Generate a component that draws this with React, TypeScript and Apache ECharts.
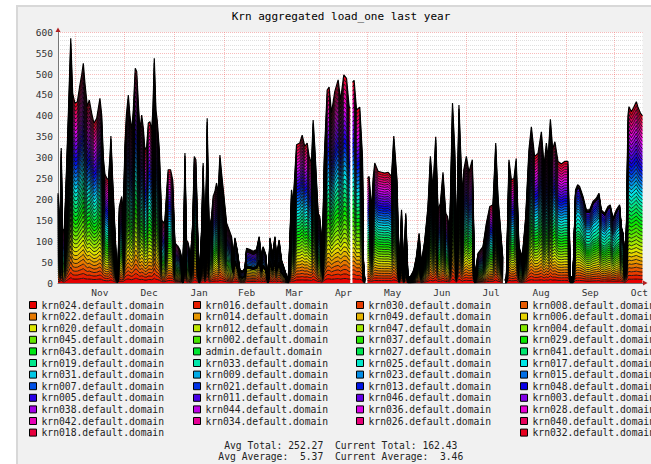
import React, { useEffect, useRef } from 'react';
import * as echarts from 'echarts';

const titleText = 'Krn aggregated load_one last year';

// hosts in stacking order (bottom to top)
const hostNames = [
  'krn024.default.domain', 'krn016.default.domain', 'krn030.default.domain', 'krn008.default.domain',
  'krn022.default.domain', 'krn014.default.domain', 'krn049.default.domain', 'krn006.default.domain',
  'krn020.default.domain', 'krn012.default.domain', 'krn047.default.domain', 'krn004.default.domain',
  'krn045.default.domain', 'krn002.default.domain', 'krn037.default.domain', 'krn029.default.domain',
  'krn043.default.domain', 'admin.default.domain', 'krn027.default.domain', 'krn041.default.domain',
  'krn019.default.domain', 'krn033.default.domain', 'krn025.default.domain', 'krn017.default.domain',
  'krn031.default.domain', 'krn009.default.domain', 'krn023.default.domain', 'krn015.default.domain',
  'krn007.default.domain', 'krn021.default.domain', 'krn013.default.domain', 'krn048.default.domain',
  'krn005.default.domain', 'krn011.default.domain', 'krn046.default.domain', 'krn003.default.domain',
  'krn038.default.domain', 'krn044.default.domain', 'krn036.default.domain', 'krn028.default.domain',
  'krn042.default.domain', 'krn034.default.domain', 'krn026.default.domain', 'krn040.default.domain',
  'krn018.default.domain', 'krn032.default.domain',
];

const monthNames = ['Nov', 'Dec', 'Jan', 'Feb', 'Mar', 'Apr', 'May', 'Jun', 'Jul', 'Aug', 'Sep', 'Oct'];
// day offsets from the first day shown (Oct 21)
const monthStartDay = [11, 41, 72, 103, 131, 162, 192, 223, 253, 284, 315, 345];
const monthLengths = [30, 31, 31, 28, 31, 30, 31, 30, 31, 31, 30, 31];
const axisMaxDay = 362.5;
const firstDayUTC = Date.UTC(2012, 9, 21);
const DAY_MS = 86400000;

// days since Oct 21 of the previous year
const sampleDay = [
  0, 1.2, 2.0, 2.9, 4.0, 5.4, 6.4, 7.9, 9.1, 10.5, 12.0, 13.6, 14.7, 15.7, 16.7, 18.2, 19.4, 20.9, 22.3, 24.0,
  26.0, 27.1, 28.1, 29.1, 30.2, 31.2, 32.2, 32.8, 33.9, 35.3, 36.4, 37.2, 38.0, 39.5, 40.5, 41.5, 42.4, 43.6, 44.6, 45.7,
  46.7, 47.9, 48.8, 49.8, 50.8, 51.9, 52.9, 53.9, 55.0, 56.0, 57.0, 58.1, 58.9, 59.7, 60.7, 61.5, 62.8, 64.3, 65.2, 66.3,
  67.4, 68.3, 69.8, 71.1, 72.5, 74.5, 75.6, 76.6, 77.3, 78.1, 78.7, 79.7, 80.7, 82.2, 83.5, 84.5, 85.5, 86.6, 87.6, 89.0,
  90.0, 91.1, 92.0, 92.5, 93.1, 93.7, 95.2, 96.2, 97.3, 98.3, 99.3, 100.4, 101.4, 102.9, 104.5, 106.1, 107.6, 108.6, 109.7, 111.1,
  112.8, 114.4, 115.9, 116.9, 119.0, 121.0, 123.1, 124.7, 126.2, 127.2, 128.9, 130.3, 131.4, 133.0, 134.5, 135.5, 137.1, 138.6, 140.6, 142.7,
  143.7, 144.8, 145.8, 147.9, 149.9, 151.4, 153.0, 154.5, 155.7, 157.2, 158.2, 159.2, 161.3, 162.3, 164.0, 165.1, 166.9, 168.1, 169.6, 171.6,
  173.7, 175.2, 177.2, 178.9, 180.5, 181.2, 181.7, 182.6, 183.6, 185.1, 187.1, 188.8, 189.3, 190.2, 190.8, 191.9, 192.9, 194.4, 195.4, 196.4,
  198.5, 200.6, 202.6, 204.7, 206.8, 208.2, 210.2, 211.5, 213.0, 214.4, 215.6, 217.0, 218.5, 220.6, 222.2, 223.9, 225.3, 227.4, 229.4, 230.9,
  232.5, 234.2, 235.6, 237.1, 238.7, 240.4, 241.5, 242.9, 244.6, 246.0, 247.0, 248.6, 250.7, 251.6, 253.2, 254.8, 256.9, 258.4, 260.4, 263.5,
  265.6, 267.7, 269.7, 271.4, 272.8, 274.9, 275.8, 276.5, 277.3, 278.0, 279.6, 281.1, 282.7, 284.1, 285.8, 287.9, 290.0, 292.0, 293.5, 295.5,
  297.6, 299.7, 301.4, 302.8, 303.9, 305.3, 306.7, 308.1, 310.0, 312.1, 314.1, 316.2, 317.7, 319.3, 320.9, 322.2, 323.4, 325.5, 327.6, 329.6,
  331.7, 333.8, 335.4, 336.9, 338.9, 341.0, 342.4, 344.1, 346.2, 348.2, 349.3, 350.4, 351.3, 352.4, 353.4, 354.0, 355.5, 356.9, 358.6, 359.5,
  361.2, 362.4,
];

// aggregated load (top of the stack); null = no data
const totalLoad: (number | null)[] = [
  215, 125, 323, 123, 130, 287, 402, 586, 454, 430, 434, 474, 498, 526, 478, 422, 438, 406, 382, 394,
  442, 402, 300, 260, 251, 247, 300, 352, 247, 127, 40, 35, 183, 207, 170, 330, 402, 450, 400, 366,
  414, 514, 506, 430, 366, 402, 370, 318, 326, 383, 386, 366, 420, 538, 414, 390, 320, 151, 144, 150,
  220, 271, 271, 247, 96, 87, 79, 63, 5, 150, 311, 103, 96, 63, 143, 303, 295, 127, 15, 127,
  287, 96, 250, 394, 250, 127, 159, 207, 219, 239, 215, 306, 263, 207, 144, 127, 111, 63, 108, 80,
  31, 28, 36, 83, 80, 76, 80, 111, 63, 87, 67, 0, 108, 67, 111, 63, 103, 55, 31, 5,
  100, 223, 191, 331, 335, 354, 327, 335, 303, 287, 390, 327, 167, 159, 87, 300, 462, 469, 407, 458,
  486, 438, 498, 490, 422, 418, null, 480, 485, 414, 421, 300, 63, 10, null, 250, 255, 175, 250, 287,
  267, 265, 263, 265, 255, 352, 247, 31, 175, 31, 167, 15, 15, 31, 63, 119, 47, 103, 183, 303,
  223, 350, 175, 191, 265, 167, 159, 127, 431, 319, 79, 426, 207, 271, 303, 265, 295, 15, 71, 87,
  143, 183, 187, 335, 207, 103, 60, null, 10, 15, 295, 247, 250, 298, 87, 63, 159, 319, 374, 303,
  310, 362, 280, 335, 300, 392, 320, 338, 291, 285, 291, 291, 15, 15, 223, 235, 231, 207, 175, 175,
  195, 203, 215, 175, 167, 183, 187, 155, 175, 187, 135, 119, 63, 127, 400, 422, 410, 420, 434, 422,
  406, 400,
];

const uniformShare = [
  1, 1, 1, 1, 1, 1, 1, 1, 1, 1, 1, 1, 1, 1, 1, 1, 1, 1, 1, 1, 1, 1, 1,
  1, 1, 1, 1, 1, 1, 1, 1, 1, 1, 1, 1, 1, 1, 1, 1, 1, 1, 1, 1, 1, 1, 1,
];
const winterShare = [
  2.2, 2.2, 2.2, 2.2, 2.2, 2.2, 2.2, 2.2, 2.2,
  0.2, 0.2, 0.2, 0.2, 0.2, 0.2, 0.2, 0.2, 0.2, 0.2, 0.2, 0.2, 0.2, 0.2, 0.2, 0.2, 0.2,
  2, 2, 2, 2, 2, 2, 2, 2, 2,
  0.5, 0.5, 0.5, 0.5, 0.5, 0.5, 0.5, 0.5, 0.5, 0.5, 0.5,
];
const septemberShare = [
  1, 1, 1, 1, 1, 1, 1, 1, 1, 1, 1, 1, 1, 1, 1, 1, 1, 1, 1, 1,
  1.5, 1.5, 1.5, 1.5, 1.5,
  1, 1, 1, 1, 1, 1, 1, 1, 1,
  0.05, 0.05, 0.05, 0.05, 0.05, 0.05, 0.05, 0.05, 0.05, 0.05,
  0.4, 0.4,
];
const sharePeriodStart = [0, 108, 143.5, 317, 353];
const sharePeriodTable = [uniformShare, winterShare, uniformShare, septemberShare, uniformShare];

const avgTotal = '252.27';
const currentTotal = '162.43';
const avgAverage = '5.37';
const currentAverage = '3.46';

const MONO = '"DejaVu Sans Mono", monospace';

function hsvHex(h: number, s: number, v: number) {
  const f = (n: number) => {
    const k = (n + h / 60) % 6;
    return v - v * s * Math.max(Math.min(k, 4 - k, 1), 0);
  };
  const to = (x: number) => Math.round(x * 255).toString(16).padStart(2, '0');
  return '#' + to(f(5)) + to(f(3)) + to(f(1));
}

const hostColors = hostNames.map((_, i) => hsvHex((i * 360) / hostNames.length, 1, 0.9));

const dayToTime = (d: number) => firstDayUTC + d * DAY_MS;

function periodOf(day: number) {
  let p = 0;
  for (let k = 0; k < sharePeriodStart.length; k++) if (day >= sharePeriodStart[k]) p = k;
  return p;
}

function hostSeriesData(h: number) {
  return sampleDay.map((d, t) => {
    const tot = totalLoad[t];
    if (tot === null) return [dayToTime(d), null];
    const shares = sharePeriodTable[periodOf(d)];
    const sum = shares.reduce((a, b) => a + b, 0);
    return [dayToTime(d), (tot * shares[h]) / sum];
  });
}

const monthMidDay = monthStartDay.map((s, i) => s + monthLengths[i] / 2);

// legend columns (rrdtool legend flows row by row, 4 per row)
const legendColumns = [0, 1, 2, 3].map((c) =>
  hostNames
    .map((n, i) => ({ n, i }))
    .filter(({ i }) => (i < 44 ? i % 4 === c : i === 44 ? c === 0 : c === 3))
    .map(({ n, i }) => ({ name: n, color: hostColors[i] }))
);
const legendLeft = [29, 193, 356, 520];

function buildOption(): any {
  const areaSeries = hostNames.map((name, h) => ({
    type: 'line',
    name,
    xAxisIndex: 0,
    stack: 'areas',
    data: hostSeriesData(h),
    symbol: 'none',
    showSymbol: false,
    connectNulls: false,
    silent: true,
    z: 2,
    color: hostColors[h],
    lineStyle: { width: 0, opacity: 0 },
    areaStyle: { color: hostColors[h], opacity: 1 },
    emphasis: { disabled: true },
  }));
  const lineSeries = hostNames.map((name, h) => ({
    type: 'line',
    name: name + '#outline',
    xAxisIndex: 0,
    stack: 'outlines',
    data: hostSeriesData(h),
    symbol: 'none',
    showSymbol: false,
    connectNulls: false,
    silent: true,
    z: 3,
    lineStyle: { color: '#000', width: h === hostNames.length - 1 ? 1.2 : 0.8 },
    emphasis: { disabled: true },
  }));
  const gridSeries = {
    type: 'line',
    name: '__monthgrid',
    xAxisIndex: 1,
    data: [],
    silent: true,
    z: 1,
    markLine: {
      silent: true,
      z: 1,
      symbol: ['none', 'none'],
      label: { show: false },
      emphasis: { disabled: true },
      lineStyle: { color: 'rgba(235,60,60,0.35)', type: [1, 1], width: 1 },
      data: monthStartDay.map((d) => ({ xAxis: d })),
    },
  };

  return {
    animation: false,
    backgroundColor: 'transparent',
    grid: {
      left: 58,
      right: 8,
      top: 32.3,
      bottom: 181,
      show: true,
      backgroundColor: '#ffffff',
      borderWidth: 0,
      containLabel: false,
    },
    xAxis: [
      {
        type: 'time',
        min: dayToTime(0),
        max: dayToTime(axisMaxDay),
        show: false,
        splitLine: { show: false },
      },
      {
        type: 'value',
        position: 'bottom',
        min: 0,
        max: axisMaxDay,
        axisLine: { show: true, onZero: false, lineStyle: { color: '#777', width: 1 } },
        axisTick: { show: false },
        splitLine: { show: false },
        axisLabel: {
          customValues: monthMidDay,
          formatter: (v: number) => {
            const i = monthMidDay.findIndex((m) => Math.abs(m - v) < 0.01);
            return i >= 0 ? monthNames[i] : '';
          },
          fontFamily: MONO,
          fontSize: 9.5,
          color: '#333',
          margin: 4,
        },
      },
    ],
    yAxis: {
      type: 'value',
      min: 0,
      max: 600,
      interval: 50,
      axisLine: { show: true, lineStyle: { color: '#777', width: 1 } },
      axisTick: { show: false },
      axisLabel: { fontFamily: MONO, fontSize: 9.5, color: '#333', margin: 5 },
      splitLine: { show: true, lineStyle: { color: 'rgba(235,60,60,0.35)', type: [1, 1], width: 1 } },
      minorTick: { show: false, splitNumber: 5 },
      minorSplitLine: { show: true, lineStyle: { color: 'rgba(150,150,150,0.3)', type: [1, 1], width: 1 } },
    },
    legend: legendColumns.map((col, c) => ({
      orient: 'vertical',
      left: legendLeft[c],
      top: 299.2,
      padding: 0,
      itemGap: 0,
      itemWidth: 7,
      itemHeight: 7,
      icon: 'rect',
      selectedMode: false,
      textStyle: { fontFamily: MONO, fontSize: 9.7, color: '#222', lineHeight: 11.6 },
      data: col.map((it) => ({
        name: it.name,
        icon: 'rect',
        itemStyle: { color: it.color, borderColor: '#000', borderWidth: 1 },
      })),
    })),
    graphic: {
      elements: [
        {
          type: 'text',
          x: 341,
          y: 16,
          silent: true,
          style: {
            text: titleText,
            font: '11px ' + MONO,
            fill: '#000',
            align: 'center',
            verticalAlign: 'middle',
            textAlign: 'center',
            textVerticalAlign: 'middle',
          },
        },
        {
          type: 'text',
          x: 218.3,
          y: 445,
          silent: true,
          style: {
            text: ' Avg Total: ' + avgTotal + '  Current Total: ' + currentTotal,
            font: '9.7px ' + MONO,
            fill: '#222',
            align: 'left',
            verticalAlign: 'middle',
            textAlign: 'left',
            textVerticalAlign: 'middle',
          },
        },
        {
          type: 'text',
          x: 218.3,
          y: 456.7,
          silent: true,
          style: {
            text: 'Avg Average:  ' + avgAverage + '  Current Average:  ' + currentAverage,
            font: '9.7px ' + MONO,
            fill: '#222',
            align: 'left',
            verticalAlign: 'middle',
            textAlign: 'left',
            textVerticalAlign: 'middle',
          },
        },
        {
          type: 'polygon',
          silent: true,
          shape: { points: [[55.5, 32], [60.5, 32], [58, 27.5]] },
          style: { fill: '#b02020' },
        },
        {
          type: 'polygon',
          silent: true,
          shape: { points: [[643, 280.5], [643, 285.5], [647.5, 283]] },
          style: { fill: '#b02020' },
        },
      ],
    },
    series: [gridSeries, ...areaSeries, ...lineSeries],
  };
}

export default function App() {
  const ref = useRef<HTMLDivElement>(null);
  useEffect(() => {
    if (!ref.current) return;
    const chart = echarts.init(ref.current, null, { renderer: 'svg' });
    chart.setOption(buildOption());
    return () => chart.dispose();
  }, []);
  return (
    <div style={{ position: 'fixed', left: 0, top: 0, width: 651, height: 464, background: '#ffffff', overflow: 'hidden' }}>
      <div
        style={{
          position: 'absolute',
          left: 16,
          top: 5,
          width: 700,
          height: 500,
          background: '#f1f1f1',
          borderTop: '2px solid #d8d8d8',
          borderLeft: '2px solid #d8d8d8',
          boxSizing: 'border-box',
        }}
      />
      <div ref={ref} style={{ position: 'absolute', left: 0, top: 0, width: 651, height: 464 }} />
    </div>
  );
}
